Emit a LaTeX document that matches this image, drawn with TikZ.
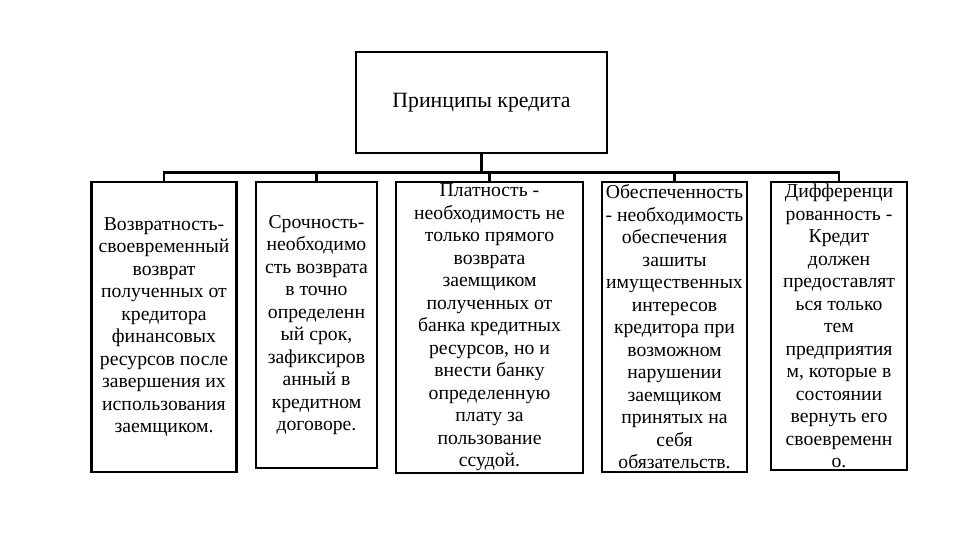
\documentclass[tikz,border=0pt]{standalone}
\usepackage{fontspec}
\setmainfont{Liberation Serif}
\usepackage{tikz}
\usetikzlibrary{positioning}

\begin{document}
\begin{tikzpicture}[
  x=0.25mm, y=-0.25mm,
  frame/.style={draw, line width=2pt, align=center, inner sep=0pt, fill=white},
  principle/.style={frame, font=\fontsize{14}{16}\selectfont},
  link/.style={line width=2pt}
]
\fill[white] (0,0) rectangle (960,540);
\useasboundingbox (0,0) rectangle (960,540);

\node[frame, minimum width=62.75mm, minimum height=25.25mm, font=\fontsize{15.5}{18}\selectfont] (top) at (481.5,102.5) {Принципы кредита};

\node[principle, minimum width=36.25mm, minimum height=72.5mm] (ret) at (164,327) {Возвратность-\\своевременный\\возврат\\полученных от\\кредитора\\финансовых\\ресурсов после\\завершения их\\использования\\заемщиком.};
\node[principle, minimum width=30.25mm, minimum height=71.5mm] (term) at (316.5,325) {Срочность-\\необходимо\\сть возврата\\в точно\\определенн\\ый срок,\\зафиксиров\\анный в\\кредитном\\договоре.};
\node[principle, minimum width=46.75mm, minimum height=72.75mm] (pay) at (489.5,327.5) {Платность -\\необходимость не\\только прямого\\возврата\\заемщиком\\полученных от\\банка кредитных\\ресурсов, но и\\внести банку\\определенную\\плату за\\пользование\\ссудой.};
\node[principle, minimum width=36.25mm, minimum height=72.5mm] (sec) at (674.5,327) {Обеспеченность\\- необходимость\\обеспечения\\зашиты\\имущественных\\интересов\\кредитора при\\возможном\\нарушении\\заемщиком\\принятых на\\себя\\обязательств.};
\node[principle, minimum width=34mm, minimum height=72mm] (diff) at (839,326) {Дифференци\\рованность -\\Кредит\\должен\\предоставлят\\ься только\\тем\\предприятия\\м, которые в\\состоянии\\вернуть его\\своевременн\\о.};

% bus from the title box down to every principle
\draw[link] (top.south) -- ++(0,18) -| (ret.north);
\draw[link] (top.south) -- ++(0,18) -| (term.north);
\draw[link] (top.south) -- ++(0,18) -| (pay.north);
\draw[link] (top.south) -- ++(0,18) -| (sec.north);
\draw[link] (top.south) -- ++(0,18) -| (diff.north);
\end{tikzpicture}
\end{document}
